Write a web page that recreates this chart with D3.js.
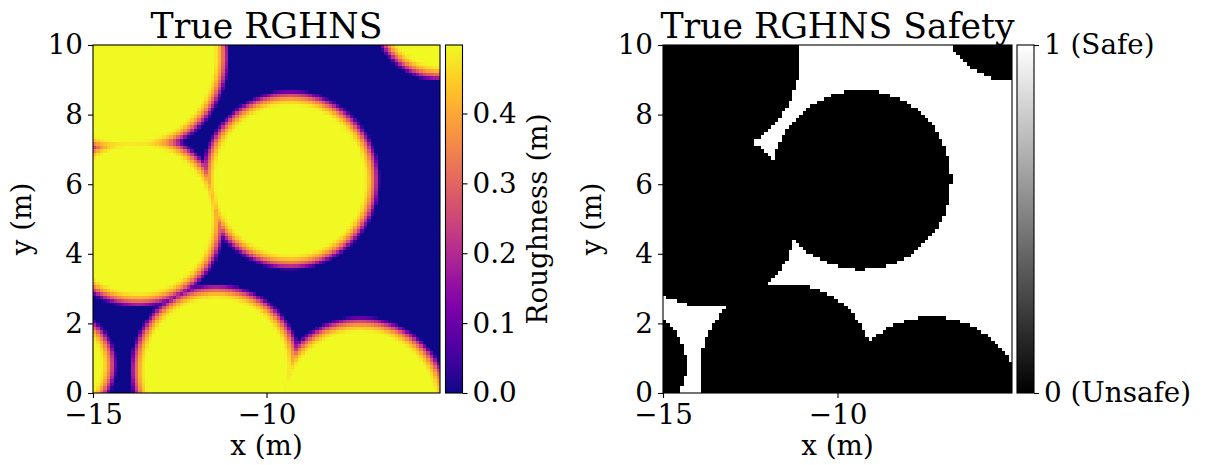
<!DOCTYPE html>
<html>
<head>
<meta charset="utf-8">
<script src="https://cdn.jsdelivr.net/npm/d3@7"></script>
<style>
  body { margin: 0; background: #fff; }
  text { font-family: "DejaVu Serif", serif; fill: #000; }
</style>
</head>
<body>
<svg id="fig" width="1207" height="465"></svg>
<script>
// Rocks lying on the patch: centre x (m), centre y (m), outer radius (m)
const rockX = [-14.0, -13.7, -9.32, -11.45, -7.3, -5.0, -15.9];
const rockY = [9.7, 5.0, 6.12, 0.65, -0.45, 10.95, 0.8];
const rockR = [2.95, 2.55, 2.59, 2.5, 2.65, 2.0, 1.6];
const rockTop = 0.498;     // roughness on a rock top (m)
const rimWidth = 0.5;      // width of the sloped rock rim (m)
const safeLimit = 0.03;    // roughness above this is unsafe

// Map grid: 0.1 m cells over x in [-15, -5], y in [0, 10]
const cellSize = 0.1;
const xEdges = d3.range(0, 101).map(i => -15 + i * cellSize);
const yEdges = d3.range(0, 101).map(i => i * cellSize);

const xTicks = [-15, -10];
const yTicks = [0, 2, 4, 6, 8, 10];
const roughTicks = [0, 0.1, 0.2, 0.3, 0.4];
const safeTicks = [0, 1];
const safeTickLabels = ["0 (Unsafe)", "1 (Safe)"];

// Roughness per cell: the highest rim/top value among the rocks
function roughnessAt(x, y) {
  let v = 0;
  for (let k = 0; k < rockX.length; k++) {
    const d = Math.hypot(x - rockX[k], y - rockY[k]);
    const t = Math.max(0, Math.min(1, (rockR[k] - d) / rimWidth));
    v = Math.max(v, rockTop * (1 - (1 - t) * (1 - t)));
  }
  return v;
}
const cells = [];
for (let j = 0; j < 100; j++) {
  for (let i = 0; i < 100; i++) {
    const cx = (xEdges[i] + xEdges[i + 1]) / 2, cy = (yEdges[j] + yEdges[j + 1]) / 2;
    const r = roughnessAt(cx, cy);
    cells.push({ i, j, rough: r, safe: r <= safeLimit ? 1 : 0 });
  }
}

const svg = d3.select("#fig");
const tickFont = 27.8, titleFont = 34.7, labelFont = 27.8;

function panel(opts) {
  const { left, right, top, bottom, title, value, color, cbLeft, cbRight, cbScale, cbTicks, cbFormat, cbColor, cbLabel } = opts;
  const x = d3.scaleLinear().domain([-15, -5]).range([left, right]);
  const y = d3.scaleLinear().domain([0, 10]).range([bottom, top]);
  const g = svg.append("g");

  g.append("g").selectAll("rect").data(cells).join("rect")
    .attr("x", d => x(xEdges[d.i]))
    .attr("y", d => y(yEdges[d.j + 1]))
    .attr("width", d => x(xEdges[d.i + 1]) - x(xEdges[d.i]))
    .attr("height", d => y(yEdges[d.j]) - y(yEdges[d.j + 1]))
    .attr("fill", d => color(value(d)))
    .attr("shape-rendering", "crispEdges");

  g.append("rect").attr("x", left).attr("y", top)
    .attr("width", right - left).attr("height", bottom - top)
    .attr("fill", "none").attr("stroke", "#000").attr("stroke-width", 1.1);

  const xAxis = g.append("g").attr("transform", `translate(0,${bottom})`)
    .call(d3.axisBottom(x).tickValues(xTicks).tickSize(5).tickPadding(6)
      .tickFormat(d => d3.format("d")(d).replace("-", "\u2212")));
  const yAxis = g.append("g").attr("transform", `translate(${left},0)`)
    .call(d3.axisLeft(y).tickValues(yTicks).tickSize(5).tickPadding(5).tickFormat(d3.format("d")));
  [xAxis, yAxis].forEach(a => {
    a.select(".domain").remove();
    a.selectAll("line").attr("stroke", "#000").attr("stroke-width", 1.1);
    a.selectAll("text").attr("font-size", tickFont).attr("font-family", "DejaVu Serif");
  });

  g.append("text").attr("x", (left + right) / 2).attr("y", 38)
    .attr("text-anchor", "middle").attr("font-size", titleFont).text(title);
  g.append("text").attr("x", (left + right) / 2).attr("y", 455)
    .attr("text-anchor", "middle").attr("font-size", labelFont).text("x (m)");
  g.append("text").attr("transform", `translate(${left - 62},${(top + bottom) / 2}) rotate(-90)`)
    .attr("text-anchor", "middle").attr("font-size", labelFont).text("y (m)");

  // colour bar
  const gradId = "grad" + Math.round(left);
  const grad = svg.append("defs").append("linearGradient").attr("id", gradId)
    .attr("x1", 0).attr("y1", 1).attr("x2", 0).attr("y2", 0);
  d3.range(0, 1.0001, 0.05).forEach(t => grad.append("stop").attr("offset", t).attr("stop-color", cbColor(t)));
  g.append("rect").attr("x", cbLeft).attr("y", top).attr("width", cbRight - cbLeft).attr("height", bottom - top)
    .attr("fill", `url(#${gradId})`).attr("stroke", "#000").attr("stroke-width", 1.1);
  const cbY = cbScale.range([bottom, top]);
  const cbAxis = g.append("g").attr("transform", `translate(${cbRight},0)`)
    .call(d3.axisRight(cbY).tickValues(cbTicks).tickSize(5).tickPadding(5).tickFormat(cbFormat));
  cbAxis.select(".domain").remove();
  cbAxis.selectAll("line").attr("stroke", "#000").attr("stroke-width", 1.1);
  cbAxis.selectAll("text").attr("font-size", tickFont).attr("font-family", "DejaVu Serif");
  if (cbLabel) {
    g.append("text").attr("transform", `translate(${cbRight + 84},${(top + bottom) / 2}) rotate(-90)`)
      .attr("text-anchor", "middle").attr("font-size", labelFont).text(cbLabel);
  }
}

const roughColor = d3.scaleSequential(d3.interpolatePlasma).domain([0, rockTop]);
panel({
  left: 93, right: 440, top: 45, bottom: 393,
  title: "True RGHNS",
  value: d => d.rough, color: roughColor,
  cbLeft: 445.5, cbRight: 462.5,
  cbScale: d3.scaleLinear().domain([0, rockTop]), cbTicks: roughTicks,
  cbFormat: d3.format(".1f"), cbColor: t => d3.interpolatePlasma(t),
  cbLabel: "Roughness (m)"
});

const safeColor = d3.scaleLinear().domain([0, 1]).range(["#000000", "#ffffff"]);
panel({
  left: 663, right: 1012, top: 45, bottom: 393,
  title: "True RGHNS Safety",
  value: d => d.safe, color: safeColor,
  cbLeft: 1017, cbRight: 1034,
  cbScale: d3.scaleLinear().domain([0, 1]), cbTicks: safeTicks,
  cbFormat: d => safeTickLabels[d], cbColor: t => safeColor(t),
  cbLabel: null
});
</script>
</body>
</html>
